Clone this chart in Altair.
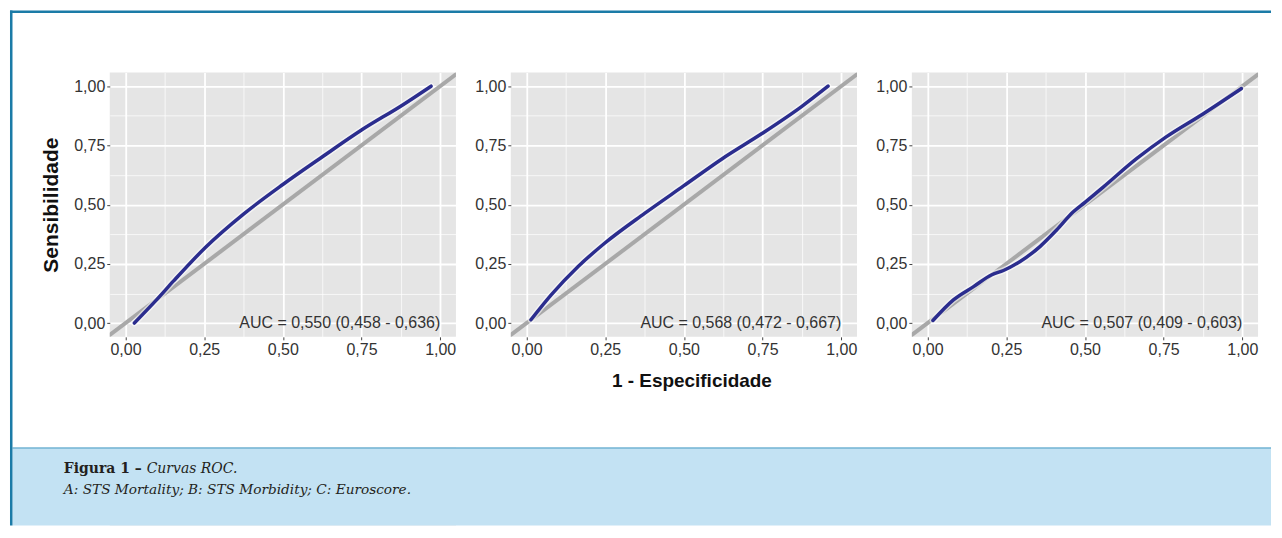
import altair as alt
import pandas as pd

# ---------------- data ----------------
panel_names = ["A", "B", "C"]
auc_labels = [
    "AUC = 0,550 (0,458 - 0,636)",
    "AUC = 0,568 (0,472 - 0,667)",
    "AUC = 0,507 (0,409 - 0,603)",
]
auc_x = [1.0]
auc_y = [0.0]

fpr_a = [0.028, 0.10, 0.153, 0.253, 0.375, 0.50, 0.618, 0.75, 0.882, 0.971]
tpr_a = [0.0, 0.10, 0.178, 0.318, 0.46, 0.585, 0.695, 0.815, 0.922, 1.0]

fpr_b = [0.014, 0.079, 0.164, 0.248, 0.375, 0.50, 0.622, 0.748, 0.875, 0.958]
tpr_b = [0.014, 0.12, 0.239, 0.337, 0.463, 0.58, 0.694, 0.80, 0.915, 1.0]

fpr_c = [0.017, 0.082, 0.146, 0.204, 0.241, 0.294, 0.357, 0.41, 0.463, 0.50,
         0.558, 0.664, 0.757, 0.875, 0.997]
tpr_c = [0.011, 0.098, 0.154, 0.204, 0.222, 0.26, 0.323, 0.393, 0.47, 0.51,
         0.574, 0.694, 0.785, 0.883, 0.99]

diag_ref = [-0.1, 1.1]
major_ticks = [0, 0.25, 0.5, 0.75, 1.0]
minor_ticks = [0.125, 0.375, 0.625, 0.875]

x_title = "1 - Especificidade"
y_title = "Sensibilidade"
caption_bold = "Figura 1 –"
caption_title = "Curvas ROC."
caption_note = "A: STS Mortality; B: STS Morbidity; C: Euroscore."

# ---------------- style ----------------
W, H = 347, 265
FONT = "Liberation Sans"
SERIF = "DejaVu Serif"
TEAL = "#1b7ba7"
LABEL_EXPR = "replace(format(datum.value, '.2f'), '.', ',')"
xs = alt.Scale(domain=[-0.05, 1.05], nice=False, zero=False)
ys = alt.Scale(domain=[-0.058, 1.058], nice=False, zero=False)


def main_axis(orient, title=None, **kw):
    args = dict(
        orient=orient, values=major_ticks, grid=True, gridColor="white",
        gridWidth=1.8, gridOpacity=1, domain=False, ticks=True, tickSize=3,
        tickColor="#444444", tickWidth=1, labelFont=FONT, labelFontSize=16,
        labelColor="#333333", labelPadding=2, labelExpr=LABEL_EXPR,
        labelFlush=False, labelOverlap=False,
    )
    if title:
        args.update(title=title, titleFont=FONT,
                    titleFontWeight="bold", titleColor="#111111",
                    titleAlign="center", titleBaseline="middle", **kw)
    else:
        args["title"] = None
    return alt.Axis(**args)


def minor_axis(orient):
    return alt.Axis(orient=orient, values=minor_ticks, grid=True,
                    gridColor="white", gridWidth=0.9, gridOpacity=0.8,
                    labels=False, ticks=False, domain=False, title=None)


def panel(fpr, tpr, label, xtitle=None, ytitle=None):
    cdf = pd.DataFrame({"fpr": fpr, "tpr": tpr})
    ddf = pd.DataFrame({"fpr": diag_ref, "tpr": diag_ref})
    tdf = pd.DataFrame({"fpr": auc_x, "tpr": auc_y, "label": [label]})

    xkw = dict(titleX=181, titleY=44, titleFontSize=19) if xtitle else {}
    ykw = dict(titleX=-58, titleY=H / 2, titleAngle=270, titleFontSize=21) if ytitle else {}

    grid = alt.Chart(ddf).mark_line(opacity=0).encode(
        x=alt.X("fpr:Q", scale=xs, axis=minor_axis("top")),
        y=alt.Y("tpr:Q", scale=ys, axis=minor_axis("right")),
    )
    diag = alt.Chart(ddf).mark_line(color="#a8a8a8", strokeWidth=4, clip=True).encode(
        x=alt.X("fpr:Q", scale=xs, axis=main_axis("bottom", xtitle, **xkw)),
        y=alt.Y("tpr:Q", scale=ys, axis=main_axis("left", ytitle, **ykw)),
    )
    enc = dict(
        x=alt.X("fpr:Q", scale=xs, axis=None),
        y=alt.Y("tpr:Q", scale=ys, axis=None),
    )
    halo = alt.Chart(cdf).mark_line(color="white", strokeWidth=6.5, opacity=0.55,
                                    interpolate="monotone", strokeCap="round").encode(**enc)
    curve = alt.Chart(cdf).mark_line(color="#2b2d8e", strokeWidth=3.5,
                                     interpolate="monotone", strokeCap="round").encode(**enc)
    text = alt.Chart(tdf).mark_text(align="right", baseline="middle", font=FONT,
                                    fontSize=16, color="#333333").encode(
        text="label:N", **enc)
    return (alt.layer(grid, diag, halo, curve, text)
            .resolve_axis(x="independent", y="independent")
            .properties(width=W, height=H))


p1 = panel(fpr_a, tpr_a, auc_labels[0], ytitle=y_title)
p2 = panel(fpr_b, tpr_b, auc_labels[1], xtitle=x_title)
p3 = panel(fpr_c, tpr_c, auc_labels[2])

# ---------------- frame + caption ----------------
one = pd.DataFrame({"k": [0]})
capdf = pd.DataFrame({"b": [caption_bold], "t": [caption_title], "n": [caption_note]})
CAP_H = 78
RIGHT = 1164

box = alt.Chart(one).mark_rect(color="#c3e2f3").encode(
    x=alt.value(-97.5), x2=alt.value(RIGHT), y=alt.value(0), y2=alt.value(CAP_H))
box_line = alt.Chart(one).mark_rect(color="#4a9cc4").encode(
    x=alt.value(-97.5), x2=alt.value(RIGHT), y=alt.value(0), y2=alt.value(1))
left_border = alt.Chart(one).mark_rect(color=TEAL).encode(
    x=alt.value(-100), x2=alt.value(-97.5), y=alt.value(-438), y2=alt.value(CAP_H))
top_border = alt.Chart(one).mark_rect(color=TEAL).encode(
    x=alt.value(-100), x2=alt.value(RIGHT), y=alt.value(-438), y2=alt.value(-435.5))
t1 = alt.Chart(capdf).mark_text(align="left", baseline="alphabetic", font=SERIF,
                                fontSize=14, fontWeight="bold", color="#231f20").encode(
    x=alt.value(-46), y=alt.value(25), text="b:N")
t2 = alt.Chart(capdf).mark_text(align="left", baseline="alphabetic", font=SERIF,
                                fontSize=14, fontStyle="italic", color="#231f20").encode(
    x=alt.value(37), y=alt.value(25), text="t:N")
t3 = alt.Chart(capdf).mark_text(align="left", baseline="alphabetic", font=SERIF,
                                fontSize=13.7, fontStyle="italic", color="#231f20").encode(
    x=alt.value(-46), y=alt.value(47), text="n:N")

caption = alt.layer(box, box_line, left_border, top_border, t1, t2, t3).properties(
    width=W, height=CAP_H)

chart = alt.concat(
    p1, p2, p3, caption, columns=3,
    spacing={"row": 111, "column": 55},
    bounds="flush",
    padding={"left": 2, "top": 2, "right": 0, "bottom": 0},
).configure_view(fill="#e5e5e5", stroke=None)

chart.save("out.html", embed_options={"renderer": "svg", "actions": False})
